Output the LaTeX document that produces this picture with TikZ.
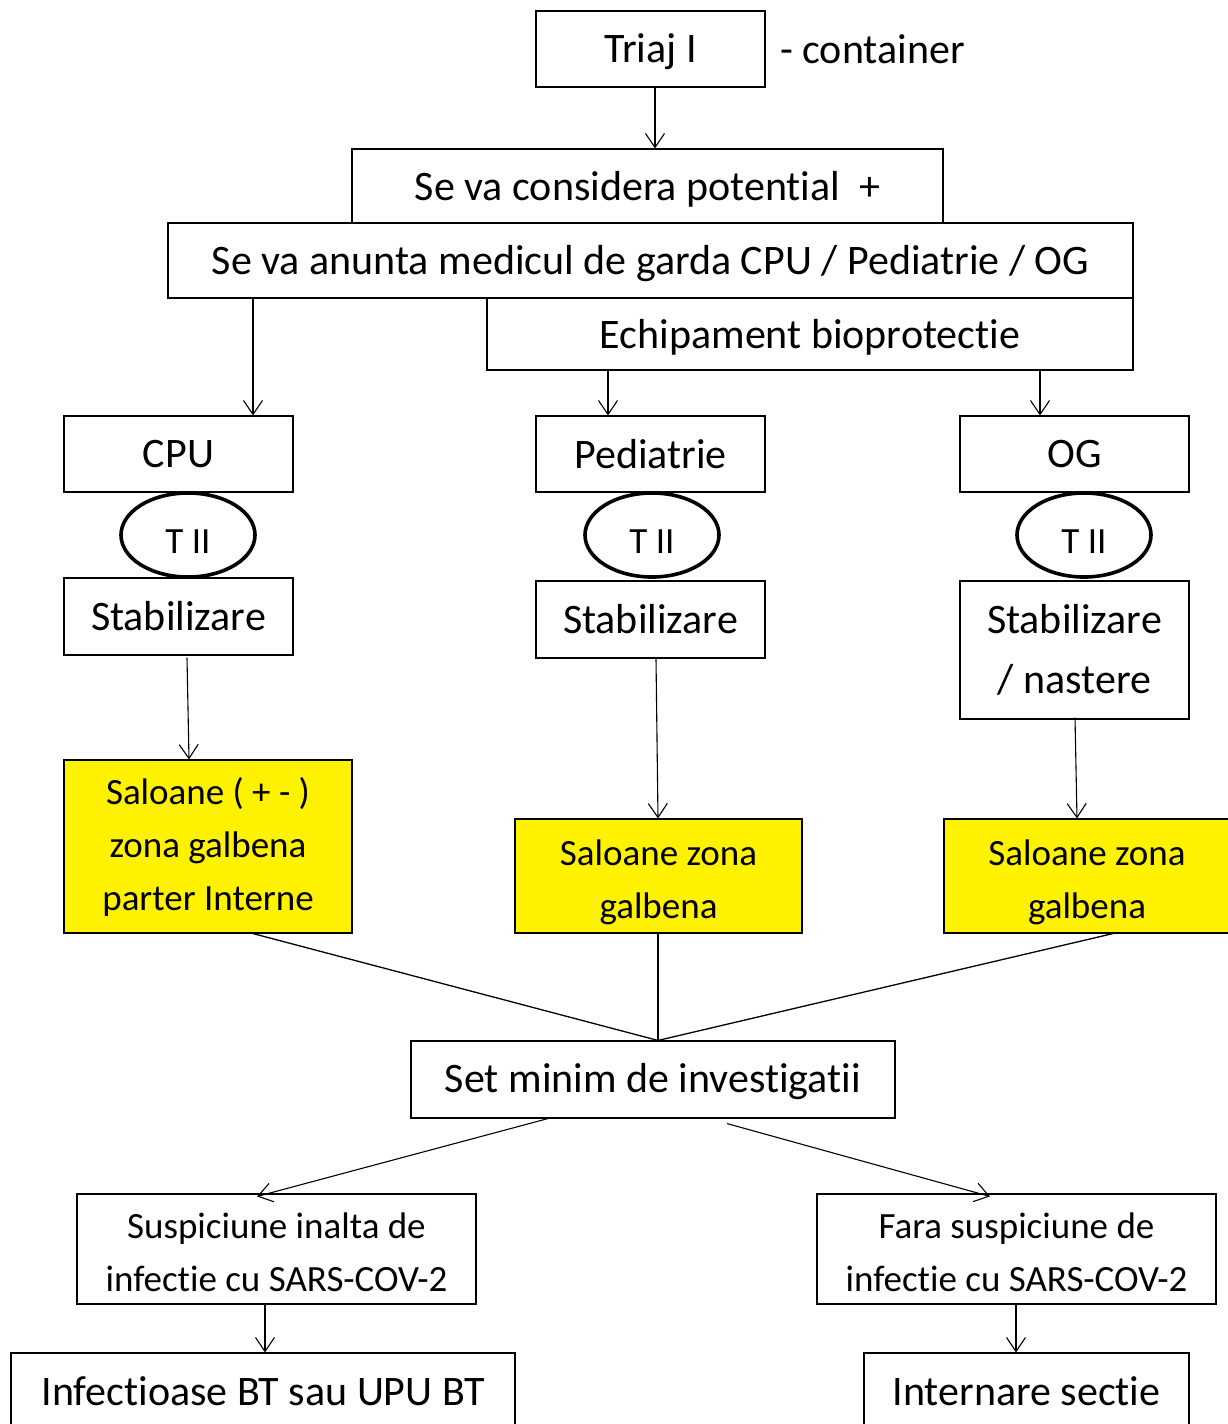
\documentclass[tikz,border=0pt]{standalone}
\usepackage{fontspec}
\setmainfont{Carlito}[RawFeature={-liga;-clig;-calt;-dlig}]
\usetikzlibrary{shapes.geometric,arrows.meta}
\newcommand{\lowr}[2]{\raisebox{-#1}[\height][\depth]{#2}}
\newcommand{\twol}[2]{\lowr{5pt}{\begin{tabular}{@{}c@{}}#1\\#2\end{tabular}}}
\tikzset{
  box/.style={draw, line width=1.1pt, inner sep=0pt, align=center, font=\fontsize{42}{50}\selectfont},
  ybox/.style={box, fill=yellow, font=\fontsize{37}{53}\selectfont},
  sbox/.style={box, font=\fontsize{37}{53}\selectfont},
  tii/.style={draw, ellipse, line width=3.6pt, inner sep=0pt, minimum width=134pt, minimum height=84pt, font=\fontsize{37}{40}\selectfont},
  arr/.style={line width=1.1pt, -{Straight Barb[length=14pt,width=19pt,line width=1.1pt]}},
  ln/.style={line width=1.3pt}
}
\begin{document}
\begin{tikzpicture}[x=1pt,y=-1pt]
\useasboundingbox (0,0) rectangle (1228,1424);
\clip (0,0) rectangle (1228,1424);
\fill[white] (0,0) rectangle (1228,1424);
% top
\node[box, minimum width=229pt, minimum height=76pt] (triaj) at (650.5,49) {\lowr{3pt}{Triaj I}};
\node[anchor=west, inner sep=0pt, font=\fontsize{42}{50}\selectfont] (cont) at (780,49) {- container};
\node[box, minimum width=591pt, minimum height=74pt] (cons) at (647.5,186) {\lowr{3pt}{Se va considera potential~~+}};
\node[box, minimum width=965pt, minimum height=75pt] (anunta) at (650.5,260.5) {\lowr{3pt}{Se va anunta medicul de garda CPU / Pediatrie / OG}};
\node[box, minimum width=646pt, minimum height=72pt] (echip) at (810,334) {\lowr{3pt}{Echipament bioprotectie}};
% columns
\node[box, minimum width=229pt, minimum height=76pt] (cpu) at (178.5,454) {CPU};
\node[tii] (t1) at (188,535) {\lowr{7pt}{T II}};
\node[box, minimum width=229pt, minimum height=77pt] (stab1) at (178.5,616.5) {Stabilizare};
\node[ybox, minimum width=288pt, minimum height=173pt] (sal1) at (208,846.5) {Saloane ( + - )\\zona galbena\\parter Interne};
\node[box, minimum width=229pt, minimum height=76pt] (ped) at (650.5,454) {Pediatrie};
\node[tii] (t2) at (652,535) {\lowr{7pt}{T II}};
\node[box, minimum width=229pt, minimum height=77pt] (stab2) at (650.5,619.5) {Stabilizare};
\node[ybox, minimum width=287pt, minimum height=114pt] (sal2) at (658.5,876) {\twol{Saloane zona}{galbena}};
\node[box, minimum width=229pt, minimum height=76pt] (og) at (1074.5,454) {OG};
\node[tii] (t3) at (1084,535) {\lowr{7pt}{T II}};
\node[box, minimum width=229pt, minimum height=138pt, font=\fontsize{42}{60}\selectfont] (stab3) at (1074.5,650) {Stabilizare\\/ nastere};
\node[ybox, minimum width=286pt, minimum height=114pt] (sal3) at (1087,876) {\twol{Saloane zona}{galbena}};
% bottom
\node[box, minimum width=484pt, minimum height=77pt] (setm) at (653,1079.5) {\lowr{2pt}{Set minim de investigatii}};
\node[sbox, minimum width=399pt, minimum height=110pt] (susp) at (276.5,1249) {\twol{Suspiciune inalta de}{infectie cu SARS-COV-2}};
\node[sbox, minimum width=399pt, minimum height=110pt] (fara) at (1016.5,1249) {\twol{Fara suspiciune de}{infectie cu SARS-COV-2}};
\node[box, minimum width=504pt, minimum height=76pt] (inf) at (263,1391) {Infectioase BT sau UPU BT};
\node[box, minimum width=325pt, minimum height=76pt] (intern) at (1026.5,1391) {Internare sectie};
% connectors
\draw[arr] ([xshift=4.5pt]triaj.south) -- ([xshift=4.5pt]triaj.south |- cons.north);
\draw[arr] ([xshift=74.5pt]cpu.north |- anunta.south) -- ([xshift=74.5pt]cpu.north);
\draw[arr] ([xshift=-42.5pt]ped.north |- echip.south) -- ([xshift=-42.5pt]ped.north);
\draw[arr] ([xshift=-34.5pt]og.north |- echip.south) -- ([xshift=-34.5pt]og.north);
\draw[arr] ([xshift=8.5pt,yshift=-2pt]stab1.south) -- ([xshift=-19pt]sal1.north);
\draw[arr] ([xshift=5.5pt]stab2.south) -- ([xshift=-0.5pt]sal2.north);
\draw[arr] ([xshift=0.5pt,yshift=2pt]stab3.south) -- ([xshift=-10pt]sal3.north);
\draw[ln] ([xshift=45pt]sal1.south) -- ([xshift=5pt]setm.north);
\draw[ln] ([xshift=-0.5pt]sal2.south) -- ([xshift=5pt]setm.north);
\draw[ln] ([xshift=26pt]sal3.south) -- ([xshift=5pt]setm.north);
\draw[arr] ([xshift=-105pt]setm.south) -- ([xshift=-19.5pt,yshift=-3pt]susp.north);
\draw[arr] ([xshift=74pt,yshift=-5pt]setm.south) -- ([xshift=-26.5pt,yshift=-3pt]fara.north);
\draw[arr] ([xshift=-11.5pt]susp.south) -- ([xshift=2pt]inf.north);
\draw[arr] ([xshift=-0.5pt]fara.south) -- ([xshift=-10.5pt]intern.north);
\end{tikzpicture}
\end{document}
